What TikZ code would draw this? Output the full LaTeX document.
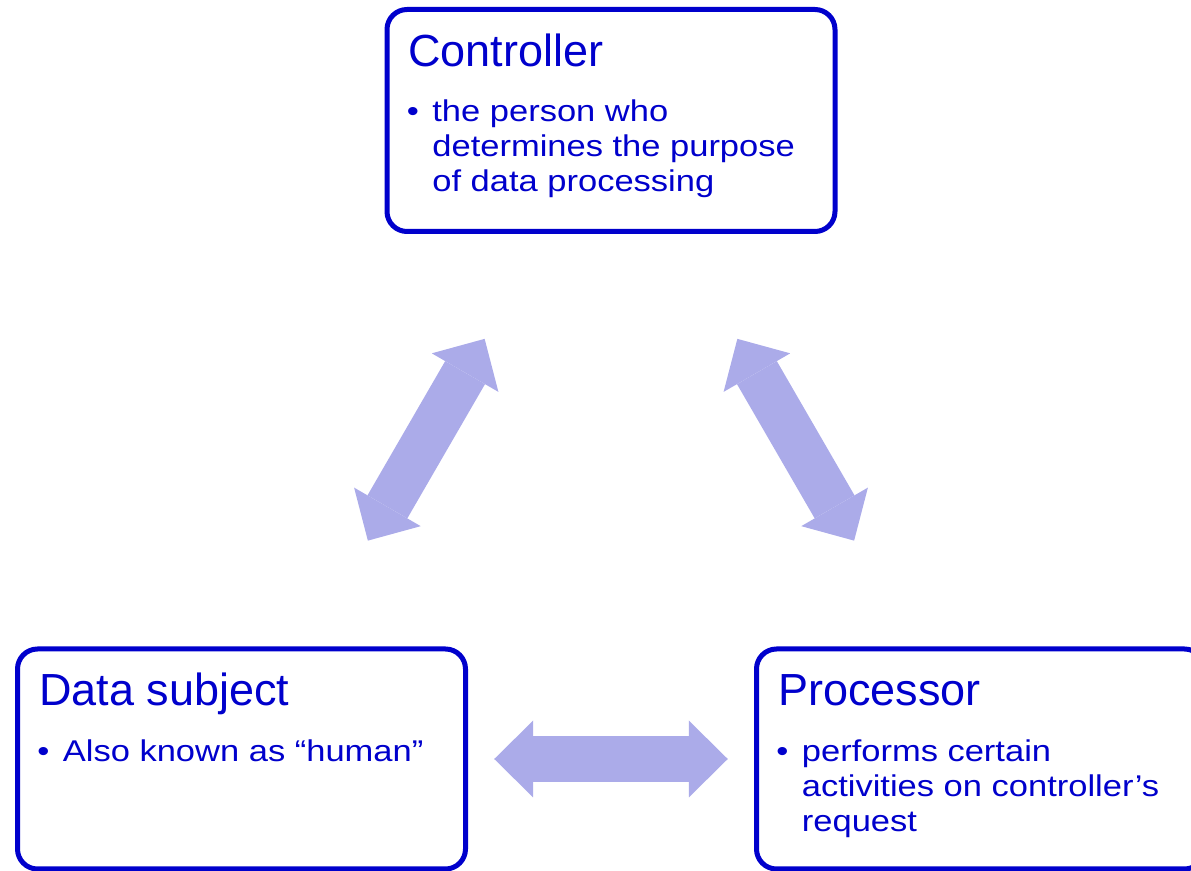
\documentclass[tikz,border=0pt]{standalone}
\usepackage{fontspec}
\setmainfont{Liberation Sans}
\newfontfamily\bodyfont[FakeStretch=1.15]{Liberation Sans}
\usepackage{xcolor}
\usepackage{tikz}
\usetikzlibrary{positioning,arrows.meta,calc}

\definecolor{roleblue}{HTML}{0000CC}
\definecolor{linklav}{HTML}{ABABE9}

\tikzset{
  rolebox/.style={draw=roleblue,line width=2.5pt,rounded corners=10pt,fill=white,
    minimum width=224pt,minimum height=110pt,inner sep=0pt,outer sep=0pt},
  roletitle/.style={anchor=base west,inner sep=0pt,text=roleblue,
    font=\fontsize{22.5pt}{27pt}\selectfont},
  roledot/.style={anchor=base west,inner sep=0pt,text=roleblue,
    font=\bodyfont\fontsize{15pt}{17.5pt}\selectfont},
  roletext/.style={roledot,align=left},
  rolelink/.style={draw=linklav,line width=23pt,
    {Triangle[length=19.5pt,width=38.5pt,line width=0pt]}-{Triangle[length=19.5pt,width=38.5pt,line width=0pt]}},
}

\begin{document}
\begin{tikzpicture}[x=0.5pt,y=-0.5pt]
  % slide measured in pixels, y runs downwards
  % (base of a text with several lines is its last line: 35 per line)
  \useasboundingbox (0,0) rectangle (1191,871);
  \clip (0,0) rectangle (1191,871);
  \node[rolebox,minimum height=111pt] (ctrl) at (611,120.5) {};
  \node[rolebox] (subj) at (241.5,759) {};
  \node[rolebox] (proc) at (980.5,759) {};

  \node[roletitle] (ctrltitle) at ($(ctrl.north west)+(21,57.5)$) {Controller};
  \node[roledot] (ctrldot) at ($(ctrl.north west)+(19.5,112)$) {•};
  \node[roletext] (ctrltext) at ($(ctrl.north west)+(45,182)$) {the person who\\determines the purpose\\of data processing};

  \node[roletitle] (subjtitle) at ($(subj.north west)+(21.5,57)$) {Data subject};
  \node[roledot] (subjdot) at ($(subj.north west)+(19.5,112.5)$) {•};
  \node[roletext] (subjtext) at ($(subj.north west)+(45,112.5)$) {Also known as “human”};

  \node[roletitle] (proctitle) at ($(proc.north west)+(21.5,57)$) {Processor};
  \node[roledot] (procdot) at ($(proc.north west)+(19.5,112.5)$) {•};
  \node[roletext] (proctext) at ($(proc.north west)+(45,182.5)$) {performs certain\\activities on controller’s\\request};

  \draw[rolelink] ($(ctrl)!0.342!(subj)$) -- ($(ctrl)!0.658!(subj)$);
  \draw[rolelink] ($(ctrl)!0.342!(proc)$) -- ($(ctrl)!0.658!(proc)$);
  \draw[rolelink] ($(subj)!0.342!(proc)$) -- ($(subj)!0.658!(proc)$);
\end{tikzpicture}
\end{document}
